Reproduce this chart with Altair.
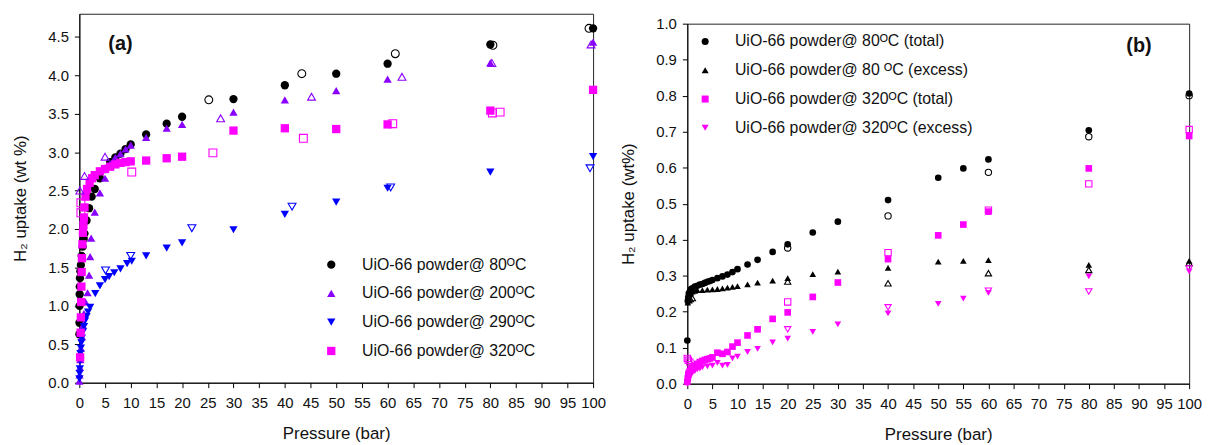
import altair as alt
import pandas as pd

FONT = "Liberation Sans"

# ---------------- Panel (a) ----------------
A_LABELS = ["UiO-66 powder@ 80ᴼC", "UiO-66 powder@ 200ᴼC",
            "UiO-66 powder@ 290ᴼC", "UiO-66 powder@ 320ᴼC"]
A_COLORS = ["#000000", "#8A00FF", "#0000FF", "#FF00FF"]
A_SHAPES = ["circle", "triangle-up", "triangle-down", "square"]

a80_p = [0.01, 0.02, 0.04, 0.06, 0.08, 0.12, 0.2, 0.3, 0.45, 0.65, 0.85, 1.0, 1.4, 1.9, 2.4, 3.0,
         4.0, 5.0, 6.0, 7.0, 8.0, 9.0, 10, 13, 17, 20, 30, 40, 50, 60, 80, 100]
a80_u = [0.63, 0.78, 1.0, 1.15, 1.25, 1.36, 1.45, 1.53, 1.65, 1.77, 1.87, 1.94, 2.11, 2.27, 2.42, 2.52,
         2.66, 2.78, 2.87, 2.93, 2.98, 3.04, 3.10, 3.23, 3.37, 3.46, 3.69, 3.87, 4.02, 4.15, 4.40, 4.61]
a80d_p = [25.2, 43.3, 61.5, 80.5, 99.2]
a80d_u = [3.68, 4.02, 4.28, 4.39, 4.61]

a200_p = [0.0, 0.05, 0.1, 0.2, 0.3, 0.5, 0.7, 0.9, 1.2, 1.6, 1.9, 2.1, 2.3, 3.0, 4.0, 5.0, 6.0, 7.0,
          8.0, 9.0, 10, 13, 17, 20, 30, 40, 50, 60, 80, 100]
a200_u = [0.02, 0.1, 0.2, 0.3, 0.45, 0.6, 0.75, 0.9, 1.05, 1.17, 1.40, 1.64, 1.88, 2.22, 2.47, 2.66, 2.85,
          2.93, 2.98, 3.04, 3.09, 3.19, 3.31, 3.36, 3.52, 3.68, 3.80, 3.95, 4.16, 4.43]
a200d_p = [0.1, 1.0, 5.0, 27.5, 45.2, 62.8, 80.3, 99.6]
a200d_u = [2.50, 2.69, 2.94, 3.44, 3.72, 3.98, 4.16, 4.40]

a290_p = [0.02, 0.05, 0.1, 0.15, 0.2, 0.3, 0.4, 0.5, 0.7, 0.9, 1.1, 1.4, 1.7, 2.1, 3.1, 4.0, 5.0, 5.8,
          6.8, 8.0, 9.3, 10.2, 13, 17, 20, 30, 40, 50, 60, 80, 100]
a290_u = [0.05, 0.12, 0.18, 0.28, 0.38, 0.45, 0.52, 0.58, 0.66, 0.73, 0.8, 0.86, 0.92, 0.98, 1.16, 1.26,
          1.34, 1.38, 1.43, 1.48, 1.55, 1.58, 1.65, 1.75, 1.82, 1.99, 2.19, 2.35, 2.53, 2.74, 2.94]
a290d_p = [5.1, 10.0, 21.9, 41.4, 60.6, 99.4]
a290d_u = [1.46, 1.65, 2.01, 2.29, 2.54, 2.79]

a320_p = [0.15, 0.25, 0.3, 0.35, 0.4, 0.45, 0.5, 0.6, 0.7, 0.8, 0.9, 1.0, 1.2, 1.5, 2.0, 2.5, 3.0, 4.0,
          5.0, 6.0, 7.0, 8.0, 9.0, 10, 13, 17, 20, 30, 40, 50, 60, 80, 100]
a320_u = [0.33, 0.65, 0.85, 1.05, 1.25, 1.44, 1.62, 1.80, 1.95, 2.05, 2.15, 2.28, 2.42, 2.52, 2.60, 2.66,
          2.70, 2.75, 2.78, 2.81, 2.84, 2.86, 2.87, 2.88, 2.89, 2.92, 2.94, 3.28, 3.31, 3.30, 3.36, 3.54, 3.81]
a320d_p = [0.3, 0.3, 10.2, 26.0, 43.6, 61.0, 80.4, 81.9]
a320d_u = [2.21, 2.34, 2.74, 2.99, 3.18, 3.37, 3.51, 3.52]

# ---------------- Panel (b) ----------------
B_LABELS = ["UiO-66 powder@ 80ᴼC (total)", "UiO-66 powder@ 80 ᴼC (excess)",
            "UiO-66 powder@ 320ᴼC (total)", "UiO-66 powder@ 320ᴼC (excess)"]
B_COLORS = ["#000000", "#000000", "#FF00FF", "#FF00FF"]
B_SHAPES = ["circle", "triangle-up", "square", "triangle-down"]

b80t_p = [0.0, 0.1, 0.2, 0.3, 0.5, 0.7, 1.0, 1.5, 2.0, 2.5, 3.0, 3.5, 4.0, 4.5, 5.0, 6.0, 7.0, 8.0, 9.0,
          10, 12, 14, 17, 20, 25, 30, 40, 50, 55, 60, 80, 100]
b80t_u = [0.12, 0.23, 0.24, 0.25, 0.255, 0.262, 0.265, 0.27, 0.272, 0.275, 0.277, 0.28, 0.283, 0.285,
          0.288, 0.293, 0.298, 0.303, 0.31, 0.318, 0.331, 0.344, 0.366, 0.387, 0.42, 0.45, 0.51, 0.572,
          0.598, 0.623, 0.704, 0.806]
b80td_p = [20, 40, 60, 80, 100]
b80td_u = [0.377, 0.466, 0.587, 0.686, 0.80]

b80e_p = [0.1, 0.2, 0.3, 0.5, 0.7, 1.0, 1.5, 2.0, 3.0, 4.0, 5.0, 6.0, 7.0, 8.0, 9.0, 10, 12, 14, 17, 20,
          25, 30, 40, 50, 55, 60, 80, 100]
b80e_u = [0.225, 0.235, 0.24, 0.248, 0.252, 0.256, 0.258, 0.26, 0.26, 0.261, 0.262, 0.263, 0.265, 0.267,
          0.269, 0.271, 0.276, 0.281, 0.286, 0.293, 0.304, 0.311, 0.322, 0.339, 0.341, 0.343, 0.330, 0.341]
b80ed_p = [0.3, 0.6, 1.0, 20, 40, 60, 80, 100]
b80ed_u = [0.232, 0.235, 0.238, 0.284, 0.279, 0.307, 0.316, 0.335]

b320t_p = [0.0, 0.1, 0.2, 0.3, 0.5, 0.7, 1.0, 1.5, 2.0, 2.5, 3.0, 3.5, 4.0, 4.5, 5.0, 6.0, 7.0, 8.0, 9.0,
           10, 12, 14, 17, 20, 25, 30, 40, 50, 55, 60, 80, 100]
b320t_u = [0.005, 0.015, 0.025, 0.03, 0.035, 0.04, 0.045, 0.05, 0.055, 0.06, 0.063, 0.066, 0.068, 0.07,
           0.073, 0.086, 0.083, 0.088, 0.103, 0.114, 0.134, 0.151, 0.18, 0.198, 0.241, 0.281, 0.346,
           0.412, 0.442, 0.478, 0.598, 0.688]
b320td_p = [0.0, 0.2, 0.5, 20, 40, 60, 80, 100]
b320td_u = [0.07, 0.065, 0.06, 0.227, 0.364, 0.482, 0.555, 0.706]

b320e_p = [0.0, 0.1, 0.2, 0.3, 0.5, 0.7, 1.0, 1.5, 2.0, 2.5, 3.0, 4.0, 5.0, 6.0, 7.0, 8.0, 9.0, 10, 12,
           14, 17, 20, 25, 30, 40, 50, 55, 60, 80, 100]
b320e_u = [0.0, 0.005, 0.01, 0.015, 0.02, 0.025, 0.03, 0.035, 0.04, 0.042, 0.045, 0.048, 0.05, 0.058,
           0.05, 0.052, 0.07, 0.075, 0.088, 0.097, 0.115, 0.125, 0.144, 0.165, 0.195, 0.222, 0.236,
           0.252, 0.298, 0.312]
b320ed_p = [20, 40, 60, 80, 100]
b320ed_u = [0.151, 0.212, 0.258, 0.256, 0.32]

X_TICKS = list(range(0, 101, 5))
A_YTICKS = [0.0, 0.5, 1.0, 1.5, 2.0, 2.5, 3.0, 3.5, 4.0, 4.5]
B_YTICKS = [0.0, 0.1, 0.2, 0.3, 0.4, 0.5, 0.6, 0.7, 0.8, 0.9, 1.0]


def frame(labels, pairs, field):
    rows = []
    for lab, (ps, us) in zip(labels, pairs):
        for p, u in zip(ps, us):
            rows.append({"P": p, "U": u, field: lab})
    return pd.DataFrame(rows)


def panel(field, labels, colors, shapes, ads, des, ydom, yticks, ytitle, w, h, size,
          leg_x, leg_y, leg_size, leg_off, tag, tag_p, tag_u):
    ads_df = frame(labels, ads, field)
    des_df = frame(labels, des, field)
    x = alt.X("P:Q", scale=alt.Scale(domain=[0, 100], nice=False),
              axis=alt.Axis(values=X_TICKS, title="Pressure (bar)", format="d",
                            labelPadding=8, titlePadding=15, labelFlush=False))
    y = alt.Y("U:Q", scale=alt.Scale(domain=ydom, nice=False),
              axis=alt.Axis(values=yticks, title=ytitle, format=".1f",
                            labelPadding=6, titlePadding=18))
    leg = alt.Legend(orient="none", legendX=leg_x, legendY=leg_y, title=None,
                     labelFont=FONT, labelFontSize=16, labelColor="#111", labelLimit=0,
                     symbolSize=leg_size, symbolStrokeWidth=0, rowPadding=13,
                     labelOffset=leg_off, padding=0)
    cscale = alt.Scale(domain=labels, range=colors)
    sscale = alt.Scale(domain=labels, range=shapes)
    filled = alt.Chart(ads_df).mark_point(filled=True, size=size, opacity=1).encode(
        x=x, y=y,
        color=alt.Color(f"{field}:N", scale=cscale, legend=leg, sort=labels),
        shape=alt.Shape(f"{field}:N", scale=sscale, legend=leg, sort=labels),
    )
    openm = alt.Chart(des_df).mark_point(filled=False, size=size * 0.9, strokeWidth=1.1,
                                        opacity=1).encode(
        x=x, y=y,
        color=alt.Color(f"{field}:N", scale=cscale, legend=None),
        shape=alt.Shape(f"{field}:N", scale=sscale, legend=None),
    )
    tag_df = pd.DataFrame({"P": [tag_p], "U": [tag_u], "t": [tag]})
    tagm = alt.Chart(tag_df).mark_text(font=FONT, fontSize=20, fontWeight="bold",
                                       color="#111", align="center", baseline="middle").encode(
        x=x, y=y, text="t:N")
    return alt.layer(filled, openm, tagm).properties(width=w, height=h)


pa = panel("seriesA", A_LABELS, A_COLORS, A_SHAPES,
           [(a80_p, a80_u), (a200_p, a200_u), (a290_p, a290_u), (a320_p, a320_u)],
           [(a80d_p, a80d_u), (a200d_p, a200d_u), (a290d_p, a290d_u), (a320d_p, a320d_u)],
           [0, 4.8], A_YTICKS, "H₂ uptake (wt %)", 518, 372, 70,
           246, 245, 70, 23, "(a)", 8, 4.4)
pb = panel("seriesB", B_LABELS, B_COLORS, B_SHAPES,
           [(b80t_p, b80t_u), (b80e_p, b80e_u), (b320t_p, b320t_u), (b320e_p, b320e_u)],
           [(b80td_p, b80td_u), (b80ed_p, b80ed_u), (b320td_p, b320td_u), (b320ed_p, b320ed_u)],
           [0, 1.0], B_YTICKS, "H₂ uptake (wt%)", 506, 363, 45,
           10, 20, 50, 22, "(b)", 90, 0.937)

# invisible 1-px spacer (zero-size point): panel (b) then starts below its own top tick label
spacer = alt.Chart(pd.DataFrame({"t": [0]})).mark_point(size=0, opacity=0).encode(
    x=alt.value(0), y=alt.value(0)
).properties(width=10, height=1, view=alt.ViewBackground(stroke="transparent", fill="transparent"))

chart = alt.hconcat(pa, alt.vconcat(spacer, pb, spacing=0), spacing=12).resolve_scale(
    color="independent", shape="independent"
).resolve_legend(color="independent", shape="independent").properties(
    padding={"left": 11, "top": 11, "right": 5, "bottom": 5}, background="white"
).configure_view(stroke="#222", strokeWidth=1).configure_axis(
    grid=False, domainColor="#000", tickColor="#000", tickSize=5,
    labelFont=FONT, titleFont=FONT, labelFontSize=15, titleFontSize=17,
    titleFontWeight="normal", labelColor="#111", titleColor="#111",
)

chart.save("out.html", embed_options={"renderer": "svg", "actions": False})
